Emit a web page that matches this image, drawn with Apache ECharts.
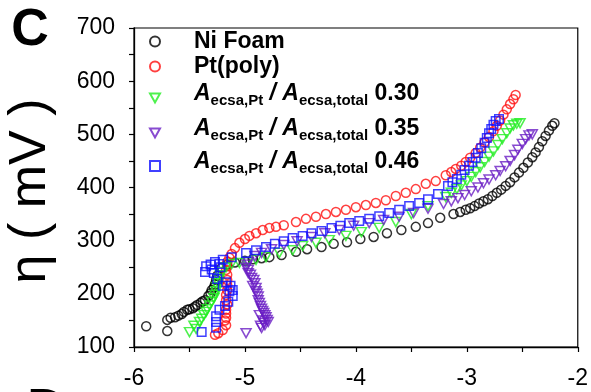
<!DOCTYPE html>
<html>
<head>
<meta charset="utf-8">
<script src="https://cdn.jsdelivr.net/npm/echarts@6/dist/echarts.min.js"></script>
<style>
  html, body { margin: 0; padding: 0; background: #fff; }
  #chart { width: 591px; height: 392px; }
</style>
</head>
<body>
<div id="chart"></div>
<script>
// Overpotential (mV) vs log current, one point per [x, y] pair
const FONT = '"Liberation Sans", Arial, Helvetica, sans-serif';

const seriesNames = ['Ni Foam', 'Pt(poly)', 'ratio 0.30', 'ratio 0.35', 'ratio 0.46'];
const ratioLabels = ['0.30', '0.35', '0.46'];
const seriesColors = ['#000000', '#ff1010', '#22ee22', '#6a1ec4', '#1010ff'];

const niFoam = [
  [-5.89, 139], [-5.70, 130], [-5.70, 151], [-5.67, 155], [-5.63, 156], [-5.60, 159],
  [-5.57, 162], [-5.55, 166], [-5.52, 170], [-5.50, 171], [-5.47, 173], [-5.45, 176],
  [-5.43, 179], [-5.40, 183], [-5.38, 186], [-5.36, 188], [-5.33, 196], [-5.31, 201],
  [-5.30, 207], [-5.28, 212], [-5.27, 218], [-5.26, 226], [-5.25, 234], [-5.21, 249],
  [-5.16, 255], [-5.09, 259], [-5.00, 262], [-4.93, 265], [-4.85, 267], [-4.78, 269],
  [-4.67, 273], [-4.54, 279], [-4.44, 284], [-4.31, 288], [-4.20, 294], [-4.08, 297],
  [-3.96, 303], [-3.84, 307], [-3.72, 314], [-3.59, 320], [-3.46, 326], [-3.35, 333],
  [-3.24, 343], [-3.12, 350], [-3.06, 354], [-3.01, 358], [-2.97, 361], [-2.93, 365],
  [-2.89, 370], [-2.85, 374], [-2.81, 378], [-2.77, 384], [-2.73, 390], [-2.69, 396],
  [-2.65, 403], [-2.61, 410], [-2.57, 419], [-2.53, 428], [-2.49, 437], [-2.45, 447],
  [-2.41, 457], [-2.38, 466], [-2.35, 476], [-2.32, 487], [-2.29, 497], [-2.26, 507],
  [-2.23, 516], [-2.21, 521]
];

const ptPoly = [
  [-5.27, 123], [-5.24, 126], [-5.20, 132], [-5.17, 141], [-5.18, 150], [-5.17, 155],
  [-5.17, 163], [-5.17, 170], [-5.16, 180], [-5.17, 188], [-5.17, 198], [-5.16, 207],
  [-5.16, 216], [-5.16, 226], [-5.16, 236], [-5.17, 245], [-5.16, 252], [-5.16, 260],
  [-5.14, 268], [-5.12, 275], [-5.09, 286], [-5.05, 296], [-5.00, 303], [-4.96, 309],
  [-4.90, 314], [-4.84, 320], [-4.78, 324], [-4.72, 326], [-4.65, 329], [-4.54, 335],
  [-4.45, 341], [-4.36, 345], [-4.27, 350], [-4.18, 354], [-4.09, 358], [-4.00, 363],
  [-3.91, 367], [-3.82, 371], [-3.73, 376], [-3.64, 384], [-3.55, 390], [-3.46, 397],
  [-3.37, 407], [-3.28, 412], [-3.19, 423], [-3.14, 429], [-3.10, 435], [-3.05, 441],
  [-3.01, 448], [-2.97, 456], [-2.92, 465], [-2.88, 475], [-2.84, 485], [-2.80, 495],
  [-2.76, 506], [-2.73, 516], [-2.70, 526], [-2.67, 537], [-2.64, 547], [-2.61, 557],
  [-2.58, 566], [-2.56, 574]
];

const ratio030 = [
  [-5.50, 128], [-5.46, 140], [-5.44, 134], [-5.41, 147], [-5.39, 153], [-5.37, 160],
  [-5.35, 166], [-5.34, 171], [-5.32, 178], [-5.30, 185], [-5.28, 192], [-5.27, 198],
  [-5.26, 205], [-5.25, 213], [-5.24, 220], [-5.23, 228], [-5.22, 235], [-5.21, 241],
  [-5.17, 250], [-5.12, 256], [-5.05, 258], [-4.98, 260], [-4.90, 264], [-4.81, 269],
  [-4.69, 277], [-4.57, 282], [-4.48, 290], [-4.36, 296], [-4.24, 301], [-4.09, 309],
  [-3.95, 316], [-3.79, 324], [-3.64, 335], [-3.50, 350], [-3.35, 365], [-3.19, 382],
  [-3.14, 390], [-3.09, 397], [-3.05, 404], [-3.00, 412], [-2.96, 420], [-2.92, 429],
  [-2.88, 438], [-2.84, 448], [-2.80, 458], [-2.76, 468], [-2.72, 480], [-2.68, 491],
  [-2.64, 502], [-2.61, 511], [-2.58, 517], [-2.55, 520], [-2.52, 521]
];

const ratio035 = [
  [-4.99, 126], [-4.85, 136], [-4.86, 140], [-4.82, 141], [-4.83, 145], [-4.79, 147],
  [-4.80, 151], [-4.84, 150], [-4.81, 156], [-4.82, 160], [-4.87, 160], [-4.83, 164],
  [-4.84, 168], [-4.85, 172], [-4.86, 177], [-4.87, 183], [-4.88, 188], [-4.88, 195],
  [-4.89, 200], [-4.90, 205], [-4.90, 211], [-4.93, 215], [-4.91, 220], [-4.92, 226],
  [-4.94, 230], [-4.95, 236], [-4.97, 239], [-4.97, 245], [-4.99, 249], [-4.98, 255],
  [-4.97, 260], [-4.91, 271], [-4.85, 277], [-4.76, 284], [-4.65, 292], [-4.53, 299],
  [-4.40, 307], [-4.28, 314], [-4.15, 320], [-4.02, 328], [-3.88, 333], [-3.75, 339],
  [-3.61, 345], [-3.48, 352], [-3.35, 360], [-3.21, 369], [-3.14, 374], [-3.08, 380],
  [-3.02, 386], [-2.96, 393], [-2.90, 400], [-2.85, 408], [-2.80, 415], [-2.74, 423],
  [-2.70, 431], [-2.65, 440], [-2.61, 450], [-2.57, 461], [-2.54, 471], [-2.50, 482],
  [-2.47, 491], [-2.44, 498], [-2.41, 500]
];

const ratio046 = [
  [-5.39, 128], [-5.26, 136], [-5.26, 147], [-5.26, 158], [-5.23, 170], [-5.18, 177],
  [-5.15, 185], [-5.11, 196], [-5.11, 207], [-5.14, 205], [-5.13, 215], [-5.20, 215],
  [-5.17, 222], [-5.25, 228], [-5.28, 239], [-5.36, 241], [-5.30, 246], [-5.22, 250],
  [-5.35, 252], [-5.31, 255], [-5.23, 256], [-5.27, 260], [-5.20, 264], [-5.12, 269],
  [-4.99, 277], [-4.90, 282], [-4.81, 288], [-4.73, 294], [-4.65, 299], [-4.57, 305],
  [-4.48, 309], [-4.40, 314], [-4.31, 318], [-4.22, 324], [-4.14, 328], [-4.06, 333],
  [-3.97, 337], [-3.88, 341], [-3.79, 346], [-3.70, 352], [-3.61, 358], [-3.52, 365],
  [-3.43, 371], [-3.35, 378], [-3.26, 388], [-3.17, 403], [-3.13, 410], [-3.09, 416],
  [-3.05, 424], [-3.02, 433], [-2.98, 441], [-2.95, 448], [-2.92, 456], [-2.90, 465],
  [-2.87, 474], [-2.84, 484], [-2.82, 493], [-2.80, 502], [-2.78, 510], [-2.76, 518],
  [-2.74, 525], [-2.71, 529]
];

const seriesData = [niFoam, ptPoly, ratio030, ratio035, ratio046];

// marker shapes: hollow circles, downward triangles and squares
const DOWN_TRIANGLE = 'path://M0,0 L10,0 L5,9 Z';
const seriesSymbols = ['circle', 'circle', DOWN_TRIANGLE, DOWN_TRIANGLE, 'rect'];
const seriesSizes = [9, 9, [10, 9], [10, 9], 8.5];

// legend row centres (px from the top of the canvas)
const legendCentres = [43, 68, 100, 135, 168];

const chart = echarts.init(document.getElementById('chart'), null, { renderer: 'canvas' });

const axisColor = '#000';

const baseRich = {
  g: { width: 29, lineHeight: 26 },
  n: { fontFamily: FONT, fontSize: 23, fontWeight: 'bold', color: '#000', lineHeight: 20 }
};
// main glyphs lifted a little, subscripts dropped below them
const ratioRich = {
  g: { width: 29, lineHeight: 36 },
  a: { fontFamily: FONT, fontSize: 23, fontWeight: 'bold', fontStyle: 'italic', color: '#000',
       lineHeight: 20, padding: [0, 0, 9, 0] },
  s: { fontFamily: FONT, fontSize: 15, fontWeight: 'bold', color: '#000',
       lineHeight: 20, padding: [6, 0, 0, 0] },
  n: { fontFamily: FONT, fontSize: 23, fontWeight: 'bold', color: '#000',
       lineHeight: 20, padding: [0, 0, 9, 0] }
};

const legends = seriesNames.map((name, i) => {
  const isRatio = i >= 2;
  return {
    show: true,
    left: 149,
    top: legendCentres[i] - (isRatio ? 18 : 13),
    orient: 'vertical',
    padding: 0,
    itemWidth: 10,
    itemHeight: 10,
    selectedMode: false,
    data: [name],
    formatter: () => isRatio
      ? '{g| }{a|A}{s|ecsa,Pt}{a| / A}{s|ecsa,total}{n| ' + ratioLabels[i - 2] + '}'
      : '{g| }{n|' + name + '}',
    textStyle: {
      fontFamily: FONT, fontSize: 23, fontWeight: 'bold', color: '#000',
      rich: isRatio ? ratioRich : baseRich
    }
  };
});

const series = seriesNames.map((name, i) => ({
  name: name,
  type: 'scatter',
  data: seriesData[i],
  symbol: seriesSymbols[i],
  symbolSize: seriesSizes[i],
  itemStyle: {
    color: 'rgba(0,0,0,0)',
    borderColor: seriesColors[i],
    borderWidth: 1.5
  },
  emphasis: { disabled: true },
  z: 2 + i
}));

const option = {
  backgroundColor: '#fff',
  animation: false,
  grid: {
    left: 134, right: 11, top: 28, bottom: 45,
    show: true, borderColor: axisColor, borderWidth: 1.2, backgroundColor: 'transparent'
  },
  legend: legends,
  xAxis: {
    type: 'value',
    min: -6, max: -2, interval: 0.5,
    axisLine: { show: true, onZero: false, lineStyle: { color: axisColor, width: 1.3 } },
    axisTick: { show: true, inside: false, length: 5, lineStyle: { color: axisColor, width: 1.2 } },
    axisLabel: {
      color: '#000', fontFamily: FONT, fontSize: 23, margin: 20,
      formatter: v => (Math.abs(v - Math.round(v)) < 1e-9 ? String(Math.round(v)) : '')
    },
    splitLine: { show: false }
  },
  yAxis: {
    type: 'value',
    min: 100, max: 700, interval: 50,
    axisLine: { show: true, onZero: false, lineStyle: { color: axisColor, width: 1.3 } },
    axisTick: { show: true, inside: false, length: 5, lineStyle: { color: axisColor, width: 1.2 } },
    axisLabel: {
      color: '#000', fontFamily: FONT, fontSize: 23, margin: 19,
      formatter: v => (v % 100 === 0 ? String(v) : '')
    },
    splitLine: { show: false }
  },
  graphic: [
    {
      type: 'text', x: 30, y: 31,
      style: { text: 'C', font: 'bold 52px ' + FONT, fill: '#000', textAlign: 'center', textVerticalAlign: 'middle' }
    },
    {
      type: 'text', x: 31, y: 191, rotation: Math.PI / 2,
      style: { text: 'η ( mV )', font: '52px ' + FONT, fill: '#000', textAlign: 'center', textVerticalAlign: 'middle' }
    },
    {
      type: 'text', x: 46, y: 411,
      style: { text: 'D', font: 'bold 52px ' + FONT, fill: '#000', textAlign: 'center', textVerticalAlign: 'middle' }
    }
  ],
  series: series
};

chart.setOption(option);
</script>
</body>
</html>
